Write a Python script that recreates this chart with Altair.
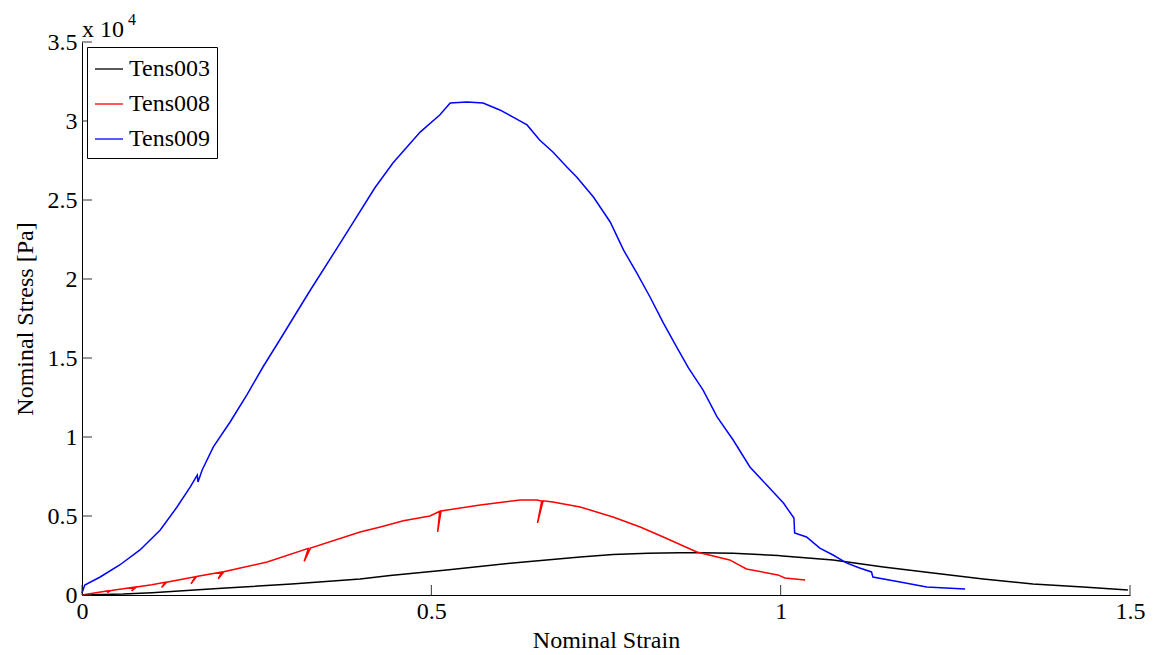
import altair as alt
import pandas as pd

# ---------------- data ----------------
series_names = ["Tens003", "Tens008", "Tens009"]
series_colors = ["#000000", "#ff0000", "#0000ff"]

t003_strain = [0, 0.059, 0.10, 0.20, 0.30, 0.398, 0.441, 0.522, 0.617, 0.713, 0.76,
               0.81, 0.856, 0.884, 0.932, 0.996, 1.003, 1.075, 1.147, 1.218, 1.29,
               1.361, 1.433, 1.497]
t003_stress = [0, 60, 150, 420, 700, 1010, 1230, 1580, 2030, 2410, 2560,
               2640, 2680, 2670, 2640, 2500, 2470, 2220, 1770, 1390, 1010,
               700, 500, 320]

# Tens008 includes the small unloading hooks
t008_strain = [0, 0.040, 0.036, 0.042, 0.076, 0.071, 0.078, 0.10, 0.119, 0.114, 0.121,
               0.162, 0.156, 0.164, 0.200, 0.195, 0.203, 0.265, 0.324, 0.318, 0.327,
               0.398, 0.427, 0.46, 0.498, 0.512, 0.509, 0.514, 0.57, 0.627, 0.651,
               0.658, 0.652, 0.660, 0.674, 0.713, 0.76, 0.799, 0.832, 0.88, 0.927,
               0.951, 0.996, 1.006, 1.035]
t008_stress = [0, 280, 150, 290, 500, 250, 510, 650, 800, 480, 810,
               1150, 710, 1170, 1450, 1020, 1470, 2090, 2950, 2130, 2970,
               3990, 4300, 4700, 5000, 5300, 3990, 5320, 5700, 6010, 6010,
               5950, 4560, 5960, 5890, 5570, 4940, 4300, 3670, 2720, 2220,
               1650, 1270, 1080, 950]

t009_strain = [0, 0.004, 0.026, 0.054, 0.083, 0.112, 0.136, 0.155, 0.165, 0.166, 0.172,
               0.188, 0.212, 0.236, 0.259, 0.283, 0.326, 0.37, 0.419, 0.445, 0.484,
               0.512, 0.527, 0.551, 0.574, 0.598, 0.617, 0.637, 0.655, 0.674, 0.694,
               0.708, 0.732, 0.756, 0.775, 0.794, 0.813, 0.832, 0.851, 0.868, 0.889,
               0.909, 0.932, 0.956, 0.980, 1.004, 1.019, 1.020, 1.037, 1.056, 1.075,
               1.094, 1.113, 1.130, 1.132, 1.171, 1.209, 1.264]
t009_stress = [130, 630, 1140, 1900, 2850, 4110, 5570, 6840, 7590, 7150, 7910,
               9370, 10950, 12660, 14430, 16140, 19240, 22300, 25760, 27340, 29300,
               30380, 31140, 31200, 31140, 30700, 30250, 29750, 28800, 28040, 27090,
               26460, 25190, 23610, 21840, 20380, 18860, 17220, 15700, 14370, 12970,
               11270, 9810, 8100, 6960, 5820, 4870, 3920, 3670, 2970, 2530,
               2030, 1710, 1460, 1140, 820, 500, 380]

x_ticks = [0, 0.5, 1, 1.5]
y_ticks = [0, 5000, 10000, 15000, 20000, 25000, 30000, 35000]

# ---------------- build tables ----------------
rows = []
for name, xs, ys in [("Tens003", t003_strain, t003_stress),
                     ("Tens008", t008_strain, t008_stress),
                     ("Tens009", t009_strain, t009_stress)]:
    for i, (xv, yv) in enumerate(zip(xs, ys)):
        rows.append({"series": name, "strain": xv, "stress": yv, "idx": i})
df = pd.DataFrame(rows)

xt = pd.DataFrame({"strain": x_ticks})
yt = pd.DataFrame({"stress": y_ticks})

FONT = "Liberation Serif"
W, H = 1048, 553
x_scale = alt.Scale(domain=[0, 1.5], nice=False, zero=False)
y_scale = alt.Scale(domain=[0, 35000], nice=False)

x_axis = alt.Axis(title="Nominal Strain", values=x_ticks, format="~g",
                  labelFlush=False, labelPadding=4,
                  titleX=W / 2, titleY=45, titleBaseline="middle",
                  titleAlign="center")
y_axis = alt.Axis(title="Nominal Stress [Pa]", values=y_ticks,
                  labelExpr="format(datum.value / 10000, '~g')",
                  labelPadding=5, labelFlush=False,
                  titleX=-57, titleY=H / 2, titleAngle=-90,
                  titleBaseline="middle", titleAlign="center")

lines = alt.Chart(df).mark_line(strokeWidth=1.5).encode(
    x=alt.X("strain:Q", scale=x_scale, axis=x_axis),
    y=alt.Y("stress:Q", scale=y_scale, axis=y_axis),
    color=alt.Color("series:N",
                    scale=alt.Scale(domain=series_names, range=series_colors),
                    legend=alt.Legend(title=None, orient="none", legendX=5, legendY=5,
                                      symbolType="stroke", symbolSize=784,
                                      symbolStrokeWidth=1.3, labelFont=FONT,
                                      labelFontSize=24, labelColor="black",
                                      labelOffset=5, strokeColor="black",
                                      fillColor="white", padding=7, rowPadding=8,
                                      cornerRadius=0)),
    order=alt.Order("idx:Q"),
)

x_tick_marks = alt.Chart(xt).mark_rule(color="#333333", strokeWidth=1).encode(
    x=alt.X("strain:Q", scale=x_scale, axis=x_axis),
    y=alt.value(H), y2=alt.value(H - 10),
)
y_tick_marks = alt.Chart(yt).mark_rule(color="#333333", strokeWidth=1).encode(
    y=alt.Y("stress:Q", scale=y_scale, axis=y_axis),
    x=alt.value(0), x2=alt.value(10),
)

one = pd.DataFrame({"a": [0]})
exp_base = alt.Chart(one).mark_text(text="x 10", font=FONT, fontSize=24,
                                    align="left", baseline="alphabetic",
                                    color="black").encode(
    x=alt.value(0), y=alt.value(-5))
exp_sup = alt.Chart(one).mark_text(text="4", font=FONT, fontSize=16,
                                   align="left", baseline="alphabetic",
                                   color="black").encode(
    x=alt.value(46), y=alt.value(-17))

chart = alt.layer(lines, x_tick_marks, y_tick_marks, exp_base, exp_sup).properties(
    width=W, height=H,
    autosize=alt.AutoSizeParams(type="none"),
    padding={"left": 82, "top": 42, "right": 27, "bottom": 60},
    background="white",
).configure_view(stroke=None).configure_axis(
    grid=False, ticks=False, tickSize=0, domainColor="black", domainWidth=1,
    labelFont=FONT, labelFontSize=24, labelColor="black",
    titleFont=FONT, titleFontSize=24, titleFontWeight="normal", titleColor="black",
)

chart.save("out.html", embed_options={"renderer": "svg", "actions": False})
